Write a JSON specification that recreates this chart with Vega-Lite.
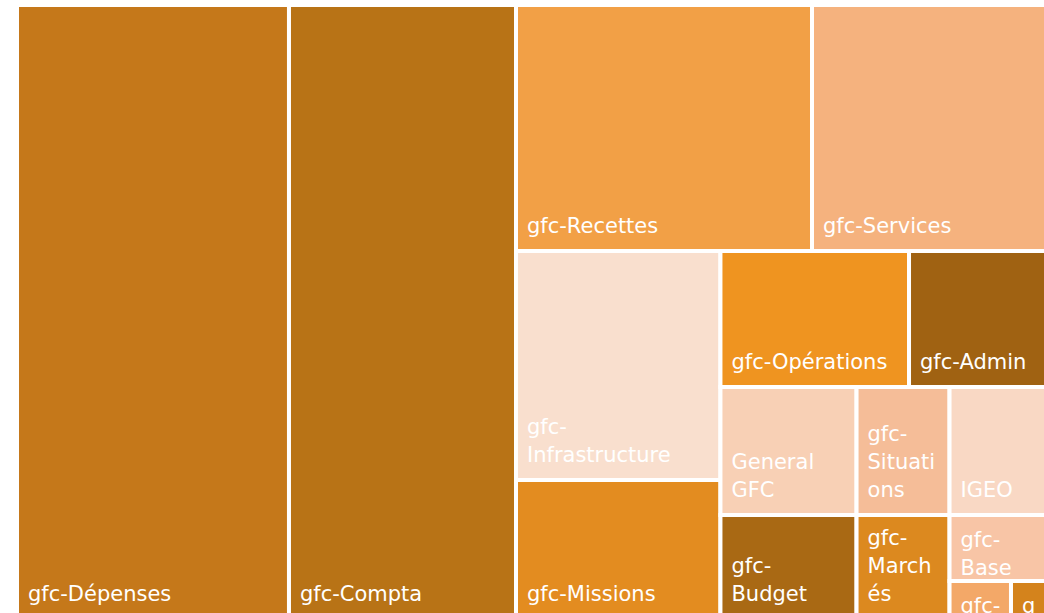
{
  "$schema": "https://vega.github.io/schema/vega-lite/v6.json",
  "width": 1031,
  "height": 614,
  "autosize": "none",
  "padding": {"left": 17, "top": 5, "right": 0, "bottom": 0},
  "background": "white",
  "config": {"view": {"stroke": null}},
  "data": {
    "values": [
      {"name": "gfc-Dépenses", "label": "gfc-Dépenses", "x0": 0, "x1": 26.38, "y0": 0, "y1": 100},
      {"name": "gfc-Compta", "label": "gfc-Compta", "x0": 26.38, "x1": 48.4, "y0": 0, "y1": 100},
      {"name": "gfc-Recettes", "label": "gfc-Recettes", "x0": 48.4, "x1": 77.11, "y0": 0, "y1": 40.07},
      {"name": "gfc-Services", "label": "gfc-Services", "x0": 77.11, "x1": 100, "y0": 0, "y1": 40.07},
      {"name": "gfc-Infrastructure", "label": "gfc-\nInfrastructure", "x0": 48.4, "x1": 68.23, "y0": 40.07, "y1": 77.36},
      {"name": "gfc-Missions", "label": "gfc-Missions", "x0": 48.4, "x1": 68.23, "y0": 77.36, "y1": 100},
      {"name": "gfc-Opérations", "label": "gfc-Opérations", "x0": 68.23, "x1": 86.52, "y0": 40.07, "y1": 62.21},
      {"name": "gfc-Admin", "label": "gfc-Admin", "x0": 86.52, "x1": 100, "y0": 40.07, "y1": 62.21},
      {"name": "General GFC", "label": "General\nGFC", "x0": 68.23, "x1": 81.43, "y0": 62.21, "y1": 83.06},
      {"name": "gfc-Situations", "label": "gfc-\nSituati\nons", "x0": 81.43, "x1": 90.45, "y0": 62.21, "y1": 83.06},
      {"name": "IGEO", "label": "IGEO", "x0": 90.45, "x1": 100, "y0": 62.21, "y1": 83.06},
      {"name": "gfc-Budget", "label": "gfc-\nBudget", "x0": 68.23, "x1": 81.43, "y0": 83.06, "y1": 100},
      {"name": "gfc-Marchés", "label": "gfc-\nMarch\nés", "x0": 81.43, "x1": 90.45, "y0": 83.06, "y1": 100},
      {"name": "gfc-Base", "label": "gfc-\nBase", "x0": 90.45, "x1": 100, "y0": 83.06, "y1": 93.81},
      {"name": "gfc-Tiers", "label": "gfc-\nTiers", "x0": 90.45, "x1": 96.41, "y0": 93.81, "y1": 100},
      {"name": "gfc-Paie", "label": "g\nf\nc", "x0": 96.41, "x1": 100, "y0": 93.81, "y1": 100}
    ]
  },
  "layer": [
    {
      "mark": {"type": "rect", "stroke": "white", "strokeWidth": 4},
      "encoding": {
        "x": {"field": "x0", "type": "quantitative", "scale": {"domain": [0, 100]}, "axis": null},
        "x2": {"field": "x1"},
        "y": {"field": "y0", "type": "quantitative", "scale": {"domain": [0, 100], "reverse": true}, "axis": null},
        "y2": {"field": "y1"},
        "color": {
          "field": "name",
          "type": "nominal",
          "legend": null,
          "scale": {
            "domain": ["gfc-Dépenses", "gfc-Compta", "gfc-Recettes", "gfc-Services", "gfc-Infrastructure", "gfc-Missions", "gfc-Opérations", "gfc-Admin", "General GFC", "gfc-Situations", "IGEO", "gfc-Budget", "gfc-Marchés", "gfc-Base", "gfc-Tiers", "gfc-Paie"],
            "range": ["#C5781A", "#B87316", "#F2A046", "#F5B27E", "#F9DFCE", "#E38C20", "#EF9420", "#A06212", "#F8D0B5", "#F5BD98", "#F9D8C4", "#A96914", "#DC891F", "#F8C5A6", "#F3A868", "#D4831C"]
          }
        }
      }
    },
    {
      "transform": [
        {"filter": {"not": {"field": "name", "oneOf": ["gfc-Base", "gfc-Tiers", "gfc-Paie"]}}},
        {"filter": "indexof(datum.label, '\\n') < 0"}
      ],
      "mark": {"type": "text", "align": "left", "baseline": "alphabetic", "dx": 11, "dy": -18, "fontSize": 21, "font": "DejaVu Sans", "color": "white", "lineBreak": "\n", "lineHeight": 28},
      "encoding": {
        "x": {"field": "x0", "type": "quantitative"},
        "y": {"field": "y1", "type": "quantitative"},
        "text": {"field": "label"}
      }
    },
    {
      "transform": [
        {"filter": {"not": {"field": "name", "oneOf": ["gfc-Base", "gfc-Tiers", "gfc-Paie"]}}},
        {"filter": "indexof(datum.label, '\\n') >= 0 && indexof(datum.label, '\\n') == lastindexof(datum.label, '\\n')"}
      ],
      "mark": {"type": "text", "align": "left", "baseline": "alphabetic", "dx": 11, "dy": -46, "fontSize": 21, "font": "DejaVu Sans", "color": "white", "lineBreak": "\n", "lineHeight": 28},
      "encoding": {
        "x": {"field": "x0", "type": "quantitative"},
        "y": {"field": "y1", "type": "quantitative"},
        "text": {"field": "label"}
      }
    },
    {
      "transform": [
        {"filter": {"not": {"field": "name", "oneOf": ["gfc-Base", "gfc-Tiers", "gfc-Paie"]}}},
        {"filter": "indexof(datum.label, '\\n') >= 0 && indexof(datum.label, '\\n') != lastindexof(datum.label, '\\n')"}
      ],
      "mark": {"type": "text", "align": "left", "baseline": "alphabetic", "dx": 11, "dy": -74, "fontSize": 21, "font": "DejaVu Sans", "color": "white", "lineBreak": "\n", "lineHeight": 28},
      "encoding": {
        "x": {"field": "x0", "type": "quantitative"},
        "y": {"field": "y1", "type": "quantitative"},
        "text": {"field": "label"}
      }
    },
    {
      "transform": [{"filter": {"field": "name", "oneOf": ["gfc-Base", "gfc-Tiers", "gfc-Paie"]}}],
      "mark": {"type": "text", "align": "left", "baseline": "alphabetic", "dx": 11, "dy": 32, "fontSize": 21, "font": "DejaVu Sans", "color": "white", "lineBreak": "\n", "lineHeight": 28},
      "encoding": {
        "x": {"field": "x0", "type": "quantitative"},
        "y": {"field": "y0", "type": "quantitative"},
        "text": {"field": "label"}
      }
    }
  ]
}
